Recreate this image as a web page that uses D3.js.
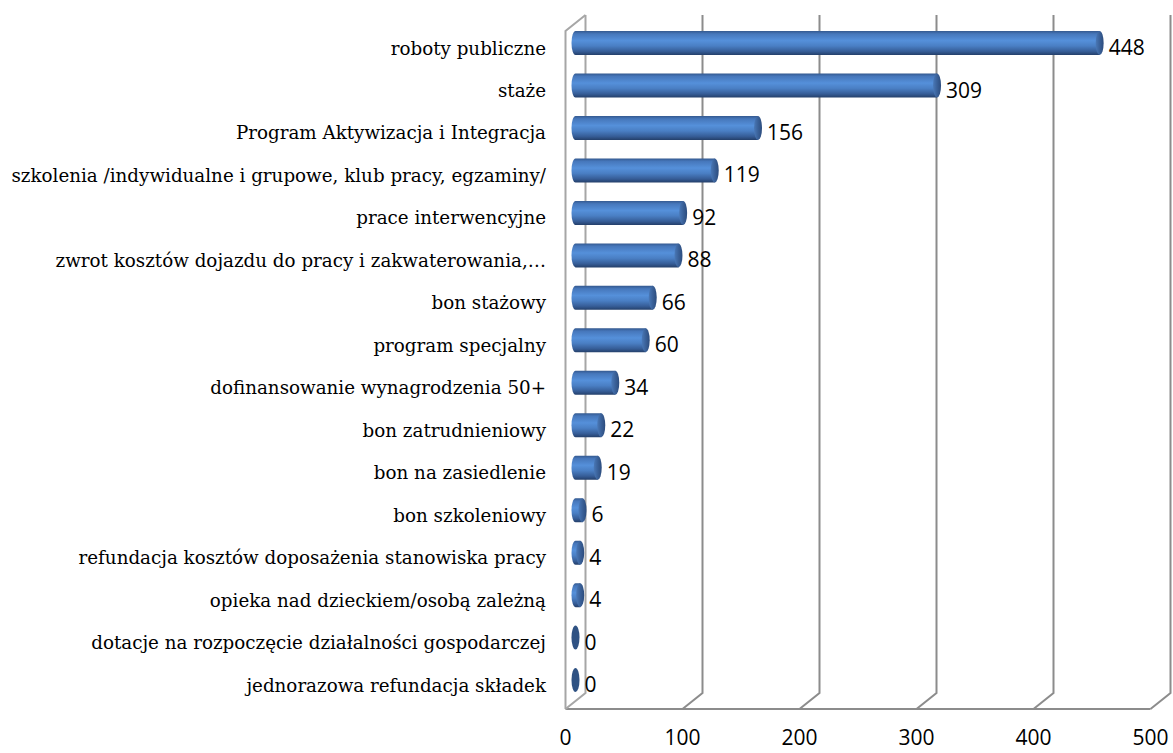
<!DOCTYPE html>
<html>
<head>
<meta charset="utf-8">
<script src="https://cdn.jsdelivr.net/npm/d3@7"></script>
<style>
  body { margin: 0; background: #fff; }
  svg { display: block; }
</style>
</head>
<body>
<div id="chart"></div>
<script>
// categories, top to bottom
const categories = [
  "roboty publiczne",
  "staże",
  "Program Aktywizacja i Integracja",
  "szkolenia /indywidualne i grupowe, klub pracy, egzaminy/",
  "prace interwencyjne",
  "zwrot kosztów dojazdu do pracy i zakwaterowania,…",
  "bon stażowy",
  "program specjalny",
  "dofinansowanie wynagrodzenia 50+",
  "bon zatrudnieniowy",
  "bon na  zasiedlenie",
  "bon szkoleniowy",
  "refundacja kosztów doposażenia stanowiska pracy",
  "opieka nad dzieckiem/osobą zależną ",
  "dotacje na rozpoczęcie działalności gospodarczej",
  "jednorazowa refundacja składek"
];
const values = [448, 309, 156, 119, 92, 88, 66, 60, 34, 22, 19, 6, 4, 4, 0, 0];
const ticks = [0, 100, 200, 300, 400, 500];

const width = 1173, height = 753;
const floorY = 709;       // front edge of the floor
const depth = { x: 20, y: -16 }; // 3d depth offset (back wall)
const barH = 24, capRx = 4;

const svg = d3.select("#chart").append("svg")
  .attr("width", width).attr("height", height);

// x scale on the front plane
const x = d3.scaleLinear().domain([0, 500]).range([565.5, 1150.5]);
// bars sit half way into the depth
const xMid = v => x(v) + depth.x / 2;

const y = d3.scalePoint().domain(categories).range([21.8, 701.3]).padding(0.5);

// gradient for the cylinder body
const defs = svg.append("defs");
const grad = defs.append("linearGradient").attr("id", "cyl")
  .attr("x1", 0).attr("y1", 0).attr("x2", 0).attr("y2", 1);
[[0, "#34598f"], [0.12, "#4677bb"], [0.4, "#5590da"], [0.62, "#4a7fc4"], [0.85, "#365d97"], [1, "#243f6a"]]
  .forEach(s => grad.append("stop").attr("offset", s[0]).attr("stop-color", s[1]));
const capGrad = defs.append("linearGradient").attr("id", "cap")
  .attr("x1", 0).attr("y1", 0).attr("x2", 1).attr("y2", 0);
[[0, "#4a79b8"], [0.5, "#3a6199"], [1, "#2c4c7d"]]
  .forEach(s => capGrad.append("stop").attr("offset", s[0]).attr("stop-color", s[1]));

// walls and gridlines
const grid = svg.append("g").attr("fill", "none").attr("stroke", "#8c8c8c").attr("stroke-width", 2);
const topY = 15;
// left wall
grid.append("path")
  .attr("stroke", "#a6a6a6")
  .attr("d", `M${x(0)},${floorY}V${topY - depth.y}L${x(0) + depth.x},${topY}`);
// floor front edge
grid.append("line")
  .attr("x1", x(0)).attr("x2", x(500)).attr("y1", floorY).attr("y2", floorY);
// gridlines on the back wall with floor diagonals
grid.selectAll("path.tick").data(ticks).enter().append("path")
  .attr("class", "tick")
  .attr("stroke", d => d === 0 ? "#a6a6a6" : "#8c8c8c")
  .attr("d", d => `M${x(d)},${floorY}L${x(d) + depth.x},${floorY + depth.y}V${topY}`);

// tick labels
svg.append("g").selectAll("text").data(ticks).enter().append("text")
  .attr("x", d => x(d)).attr("y", 745)
  .attr("text-anchor", "middle")
  .attr("font-family", "'Open Sans', sans-serif").attr("font-size", 21)
  .attr("fill", "#000")
  .text(d => d);

// category labels, sized so the longest fits its room
const labels = svg.append("g").selectAll("text").data(categories).enter().append("text")
  .attr("x", 546).attr("y", d => y(d) + 5)
  .attr("text-anchor", "end").attr("dominant-baseline", "central")
  .attr("font-family", "'DejaVu Serif', serif").attr("font-size", 16)
  .attr("fill", "#000")
  .text(d => d);
let maxLen = 0;
labels.each(function () { maxLen = Math.max(maxLen, this.getComputedTextLength()); });
labels.attr("font-size", 16 * 535 / maxLen);

// bars (cylinders)
const bars = svg.append("g").selectAll("g").data(categories).enter().append("g");
bars.each(function (d, i) {
  const g = d3.select(this);
  const cy = y(d), x0 = xMid(0), x1 = xMid(values[i]);
  const t = cy - barH / 2, b = cy + barH / 2;
  if (x1 - x0 > 0.5) {
    g.append("path")
      .attr("fill", "url(#cyl)")
      .attr("d", `M${x0},${t}H${x1}V${b}H${x0}A${capRx},${barH / 2} 0 0 1 ${x0},${t}Z`);
  }
  g.append("ellipse")
    .attr("cx", x1).attr("cy", cy).attr("rx", capRx).attr("ry", barH / 2)
    .attr("fill", values[i] > 0 ? "url(#cap)" : "#2f5283");
});

// value labels
svg.append("g").selectAll("text").data(categories).enter().append("text")
  .attr("x", (d, i) => xMid(values[i]) + capRx + 5)
  .attr("y", d => y(d) + 4)
  .attr("dominant-baseline", "central")
  .attr("font-family", "'Open Sans', sans-serif").attr("font-size", 21)
  .attr("fill", "#000")
  .text((d, i) => values[i]);
</script>
</body>
</html>
